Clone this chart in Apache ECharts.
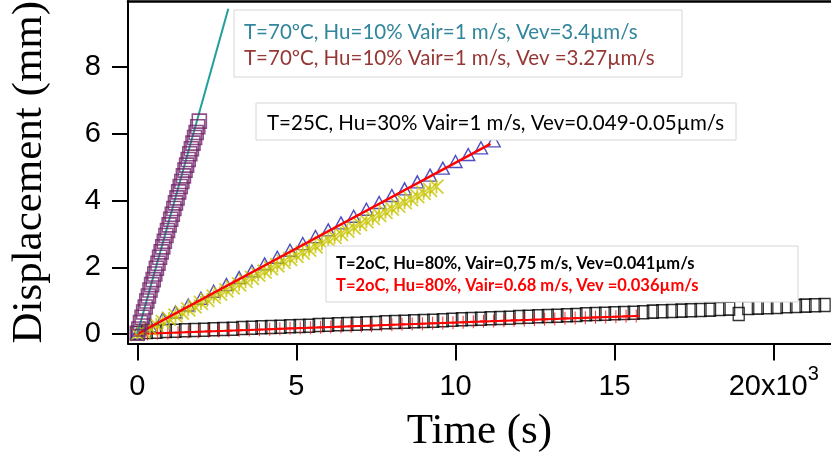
<!DOCTYPE html>
<html><head><meta charset="utf-8">
<script src="https://cdn.jsdelivr.net/npm/echarts@6/dist/echarts.min.js"></script>
<style>html,body{margin:0;padding:0;background:#fff}#c{width:831px;height:457px}</style>
</head><body><div id="c"></div>
<script>
// ---- data ----
const xTickValues = [0, 5000, 10000, 15000, 20000];
const yTickValues = [0, 2, 4, 6, 8];

// T=70C, Vev=3.4 fit line
const fit70Time = [0, 2860];
const fit70Disp = [0, 9.75];

// T=70C, Vev=3.27 (purple squares)
const sq70Time = [0,50,100,150,200,250,300,350,400,450,500,550,600,650,700,750,800,850,900,950,1000,1050,1100,1150,1200,1250,1300,1350,1400,1450,1500,1550,1600,1650,1700,1750,1800,1850,1900,1950];
const sq70Disp = [0.02,0.15,0.34,0.50,0.66,0.81,0.99,1.14,1.32,1.48,1.63,1.80,1.97,2.12,2.30,2.46,2.61,2.78,2.95,3.10,3.27,3.44,3.59,3.76,3.93,4.08,4.26,4.42,4.57,4.74,4.91,5.06,5.23,5.40,5.55,5.72,5.89,6.04,6.21,6.38];

// T=25C (blue triangles)
const tri25Time = [0,400,800,1200,1600,2000,2400,2800,3200,3600,4000,4400,4800,5200,5600,6000,6400,6800,7200,7600,8000,8400,8800,9200,9600,10000,10400,10800,11200];
const tri25Disp = [0.03,0.25,0.46,0.66,0.87,1.07,1.28,1.48,1.69,1.89,2.10,2.30,2.51,2.71,2.92,3.12,3.33,3.53,3.74,3.94,4.15,4.35,4.56,4.76,4.97,5.17,5.38,5.58,5.79];

// T=25C (yellow crosses)
const x25Time = [0,200,400,600,800,1000,1200,1400,1600,1800,2000,2200,2400,2600,2800,3000,3200,3400,3600,3800,4000,4200,4400,4600,4800,5000,5200,5400,5600,5800,6000,6200,6400,6600,6800,7000,7200,7400,7600,7800,8000,8200,8400,8600,8800,9000,9200,9400];
const x25Disp = [0.00,0.08,0.17,0.27,0.36,0.45,0.55,0.64,0.74,0.83,0.93,1.02,1.12,1.21,1.31,1.40,1.49,1.59,1.68,1.78,1.87,1.97,2.06,2.16,2.25,2.34,2.44,2.53,2.63,2.72,2.82,2.91,3.00,3.10,3.19,3.29,3.38,3.48,3.57,3.66,3.76,3.85,3.95,4.04,4.13,4.23,4.32,4.42];

// T=25C fit (red line)
const fit25Time = [0, 11100];
const fit25Disp = [0, 5.70];

// T=2C, Vair=0.75 (black squares)
const sq2Time = [0,300,600,900,1200,1500,1800,2100,2400,2700,3000,3300,3600,3900,4200,4500,4800,5100,5400,5700,6000,6300,6600,6900,7200,7500,7800,8100,8400,8700,9000,9300,9600,9900,10200,10500,10800,11100,11400,11700,12000,12300,12600,12900,13200,13500,13800,14100,14400,14700,15000,15300,15600,15900,16200,16500,16800,17100,17400,17700,18000,18300,18600,18900,19200,19500,19800,20100,20400,20700,21000,21300,21600,21900];
const sq2Disp = [0.03,0.06,0.07,0.09,0.10,0.11,0.12,0.13,0.14,0.15,0.16,0.18,0.19,0.20,0.21,0.22,0.23,0.24,0.25,0.27,0.28,0.29,0.30,0.31,0.32,0.33,0.35,0.36,0.37,0.38,0.39,0.40,0.41,0.43,0.44,0.45,0.46,0.47,0.48,0.49,0.51,0.52,0.53,0.54,0.55,0.56,0.57,0.59,0.60,0.61,0.62,0.63,0.64,0.65,0.67,0.68,0.69,0.70,0.71,0.72,0.73,0.75,0.76,0.60,0.78,0.79,0.80,0.81,0.83,0.84,0.85,0.86,0.87,0.88];

// T=2C, Vair=0.68 (red plus)
const plus2Time = [0,320,640,960,1280,1600,1920,2240,2560,2880,3200,3520,3840,4160,4480,4800,5120,5440,5760,6080,6400,6720,7040,7360,7680,8000,8320,8640,8960,9280,9600,9920,10240,10560,10880,11200,11520,11840,12160,12480,12800,13120,13440,13760,14080,14400,14720,15040,15360,15680];
const plus2Disp = [0.00,0.01,0.02,0.03,0.04,0.06,0.07,0.08,0.09,0.10,0.11,0.12,0.13,0.14,0.16,0.17,0.18,0.19,0.20,0.21,0.22,0.23,0.24,0.25,0.27,0.28,0.29,0.30,0.31,0.32,0.33,0.34,0.35,0.37,0.38,0.39,0.40,0.41,0.42,0.43,0.44,0.45,0.47,0.48,0.49,0.50,0.51,0.52,0.53,0.54];
const fit2Time = [0, 15700];
const fit2Disp = [0, 0.54];

// annotation texts
const note70a = 'T=70ºC, Hu=10% Vair=1 m/s, Vev=3.4µm/s';
const note70b = 'T=70ºC, Hu=10% Vair=1 m/s, Vev =3.27µm/s';
const note25 = 'T=25C, Hu=30% Vair=1 m/s, Vev=0.049-0.05µm/s';
const note2a = 'T=2oC, Hu=80%, Vair=0,75 m/s, Vev=0.041µm/s';
const note2b = 'T=2oC, Hu=80%, Vair=0.68 m/s, Vev =0.036µm/s';

const zip = (a, b) => a.map((v, i) => [v, b[i]]);

const chart = echarts.init(document.getElementById('c'), null, {renderer: 'canvas'});
const xMin = -292, xMax = 21800;
const boxFont = 'Lato';
chart.setOption({
  animation: false,
  backgroundColor: '#fff',
  grid: {left: 128, right: 0, top: 1, bottom: 113.5, containLabel: false, outerBoundsMode: 'none'},
  xAxis: [{
    type: 'value', min: xMin, max: xMax, position: 'bottom',
    axisLine: {show: true, onZero: false, lineStyle: {color: '#000', width: 2}},
    axisTick: {show: true, length: 17, lineStyle: {color: '#000', width: 2}, customValues: xTickValues},
    axisLabel: {
      customValues: xTickValues, margin: 21, color: '#000', fontSize: 29, lineHeight: 44, fontFamily: 'Liberation Sans',
      formatter: v => v === 20000 ? '20x10{s|3}' : String(v / 1000),
      rich: {s: {fontSize: 20, lineHeight: 22, verticalAlign: 'top', fontFamily: 'Liberation Sans', color: '#000'}}
    },
    splitLine: {show: false},
    name: 'Time (s)', nameLocation: 'middle', nameGap: 67, nameMoveOverlap: false,
    nameTextStyle: {fontFamily: 'Liberation Serif', fontSize: 43, color: '#000'}
  }, {
    type: 'value', min: xMin, max: xMax, position: 'top',
    axisLine: {show: true, onZero: false, lineStyle: {color: '#000', width: 2.5}},
    axisTick: {show: false}, axisLabel: {show: false}, splitLine: {show: false}
  }],
  yAxis: {
    type: 'value', min: -0.285, max: 9.98,
    axisLine: {show: true, onZero: false, lineStyle: {color: '#000', width: 2}},
    axisTick: {show: true, length: 16, lineStyle: {color: '#000', width: 2}, customValues: yTickValues},
    axisLabel: {customValues: yTickValues, margin: 27, color: '#000', fontSize: 29, fontFamily: 'Liberation Sans'},
    splitLine: {show: false},
    name: 'Displacement (mm)', nameLocation: 'middle', nameGap: 77, nameRotate: 90, nameMoveOverlap: false,
    nameTextStyle: {fontFamily: 'Liberation Serif', fontSize: 43, color: '#000'}
  },
  series: [
    {type: 'scatter', name: 'sq2', data: zip(sq2Time, sq2Disp), symbol: 'rect', symbolSize: [11, 13],
     itemStyle: {color: 'rgba(255,255,255,0)', borderColor: '#000', borderWidth: 1.4}, z: 2},
    {type: 'line', name: 'fit2', data: zip(fit2Time, fit2Disp), showSymbol: false, lineStyle: {color: '#ff0000', width: 2}, z: 3},
    {type: 'scatter', name: 'plus2', data: zip(plus2Time, plus2Disp), symbol: 'path://M5 0 L5 14 M1 7 L9 7', symbolSize: [7, 13], symbolKeepAspect: false,
     itemStyle: {color: 'rgba(0,0,0,0)', borderColor: '#ff0000', borderWidth: 1.4}, z: 3},
    {type: 'scatter', name: 'tri25', data: zip(tri25Time, tri25Disp), symbol: 'triangle', symbolSize: [13, 12],
     itemStyle: {color: 'rgba(255,255,255,0)', borderColor: '#2222b0', borderWidth: 1.4}, z: 4},
    {type: 'scatter', name: 'x25', data: zip(x25Time, x25Disp), symbol: 'path://M0 0 L10 10 M10 0 L0 10 M5 0 L5 10', symbolSize: 14, symbolKeepAspect: false,
     itemStyle: {color: 'rgba(0,0,0,0)', borderColor: '#c8c400', borderWidth: 1.8}, z: 5},
    {type: 'line', name: 'fit25', data: zip(fit25Time, fit25Disp), showSymbol: false, lineStyle: {color: '#ff0000', width: 2.5}, z: 6},
    {type: 'line', name: 'fit70', data: zip(fit70Time, fit70Disp), showSymbol: false, lineStyle: {color: '#1fa09c', width: 2}, z: 7},
    {type: 'scatter', name: 'sq70', data: zip(sq70Time, sq70Disp), symbol: 'rect', symbolSize: 14,
     itemStyle: {color: 'rgba(255,255,255,0)', borderColor: '#72246a', borderWidth: 1.6}, z: 8}
  ],
  graphic: [
    {type: 'rect', z: 100, shape: {x: 234, y: 10, width: 448, height: 67}, style: {fill: '#fff', stroke: '#d6d6d6', lineWidth: 1}},
    {type: 'text', z: 101, x: 244, y: 32, style: {text: note70a, fill: '#31859C', fontSize: 20.5, fontFamily: boxFont, verticalAlign: 'middle'}},
    {type: 'text', z: 101, x: 244, y: 58, style: {text: note70b, fill: '#953735', fontSize: 20.5, fontFamily: boxFont, verticalAlign: 'middle'}},
    {type: 'rect', z: 100, shape: {x: 256, y: 103, width: 480, height: 37}, style: {fill: '#fff', stroke: '#d6d6d6', lineWidth: 1}},
    {type: 'text', z: 101, x: 267, y: 123, style: {text: note25, fill: '#000', fontSize: 20.5, fontFamily: boxFont, verticalAlign: 'middle'}},
    {type: 'rect', z: 100, shape: {x: 326, y: 246, width: 472, height: 56}, style: {fill: '#fff', stroke: '#d6d6d6', lineWidth: 1}},
    {type: 'text', z: 101, x: 336, y: 264, style: {text: note2a, fill: '#000', fontSize: 16.5, fontWeight: 'bold', fontFamily: boxFont, verticalAlign: 'middle'}},
    {type: 'text', z: 101, x: 336, y: 286, style: {text: note2b, fill: '#ff0000', fontSize: 16.5, fontWeight: 'bold', fontFamily: boxFont, verticalAlign: 'middle'}}
  ]
});
</script></body></html>
